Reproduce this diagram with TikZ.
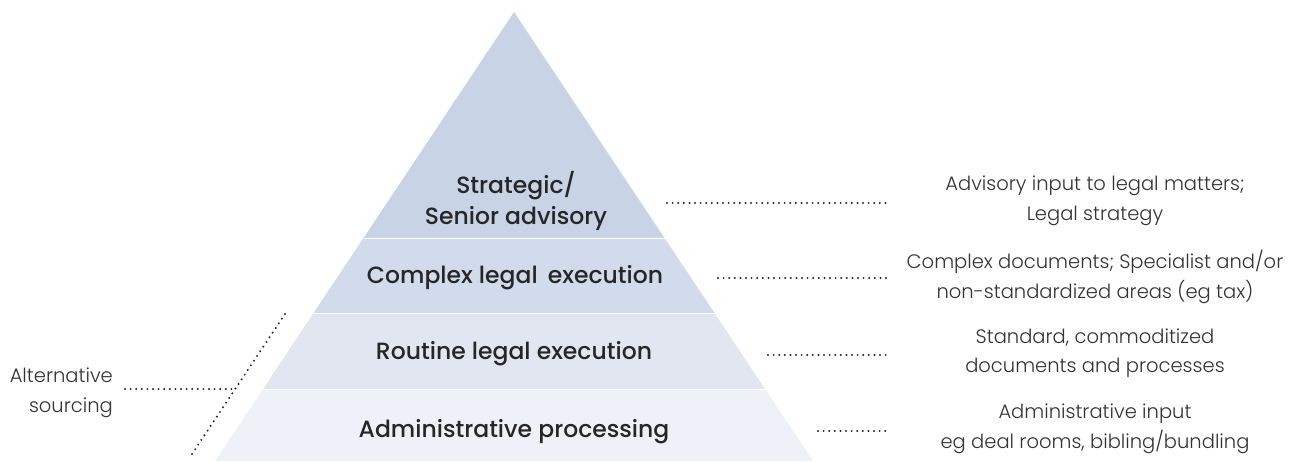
\documentclass[tikz,border=0pt]{standalone}
\usepackage{fontspec}
\setmainfont{Poppins}
\IfFontExistsTF{Poppins Light}
  {\newfontfamily\notefont{Poppins Light}}
  {\newfontfamily\notefont{Poppins}}
\IfFontExistsTF{Poppins Medium}
  {\newfontfamily\tierfont{Poppins Medium}}
  {\newfontfamily\tierfont{Poppins}}
\begin{document}
\begin{tikzpicture}[x=1pt,y=-1pt,
  tier/.style={font=\tierfont\fontsize{23.5}{31}\selectfont,text=black!85,align=center,inner sep=0pt},
  note/.style={font=\notefont\fontsize{19.5}{29.5}\selectfont,text=black!80,align=center,inner sep=0pt},
  leader/.style={line width=2.2pt,dash pattern=on 0pt off 5.6pt,line cap=round,draw=black!85}]
\useasboundingbox (0,0) rectangle (1302,461);
% pyramid tiers, top to bottom
\fill[fill={rgb,255:red,200;green,211;blue,230}] (514,12) -- (664.5,238) -- (363.5,238) -- cycle;
\fill[fill={rgb,255:red,209;green,219;blue,235}] (363.5,238) -- (664.5,238) -- (714.5,313) -- (313.5,313) -- cycle;
\fill[fill={rgb,255:red,225;green,230;blue,241}] (313.5,313) -- (714.5,313) -- (765,389) -- (263,389) -- cycle;
\fill[fill={rgb,255:red,238;green,241;blue,247}] (263,389) -- (765,389) -- (813,461) -- (215,461) -- cycle;
\draw[white,line width=0.8pt] (363.5,238) -- (664.5,238) (313.5,313) -- (714.5,313) (263,389) -- (765,389);
% tier labels
\node[tier] (strat) at (516,201) {Strategic/\\Senior advisory};
\node[tier] (cplx) at (515,278) {Complex legal \,execution};
\node[tier] (rout) at (514,354) {Routine legal execution};
\node[tier] (admin) at (514,432) {Administrative processing};
% descriptions
\node[note] (dstrat) at (1095,201) {Advisory input to legal matters;\\Legal strategy};
\node[note] (dcplx) at (1095,277) {Complex documents; Specialist and/or\\non-standardized areas (eg tax)};
\node[note] (drout) at (1095,353) {Standard, commoditized\\documents and processes};
\node[note] (dadmin) at (1095,429) {Administrative input\\eg deal rooms, bibling/bundling};
\node[note,align=right,anchor=east] (alt) at (113,393) {Alternative\\sourcing};
% leader lines
\coordinate (a1) at (667,203); \coordinate (b1) at (888,203);
\coordinate (a2) at (718,278); \coordinate (b2) at (888,278);
\coordinate (a3) at (768,355); \coordinate (b3) at (888,355);
\coordinate (a4) at (818,431); \coordinate (b4) at (888,431);
\draw[leader] (a1) -- (b1);
\draw[leader] (a2) -- (b2);
\draw[leader] (a3) -- (b3);
\draw[leader] (a4) -- (b4);
\coordinate (s0) at (125,389); \coordinate (s1) at (233,389);
\coordinate (t0) at (285,314); \coordinate (t1) at (190,457);
\draw[leader] (s0) -- (s1);
\draw[leader] (t0) -- (t1);
\end{tikzpicture}
\end{document}
